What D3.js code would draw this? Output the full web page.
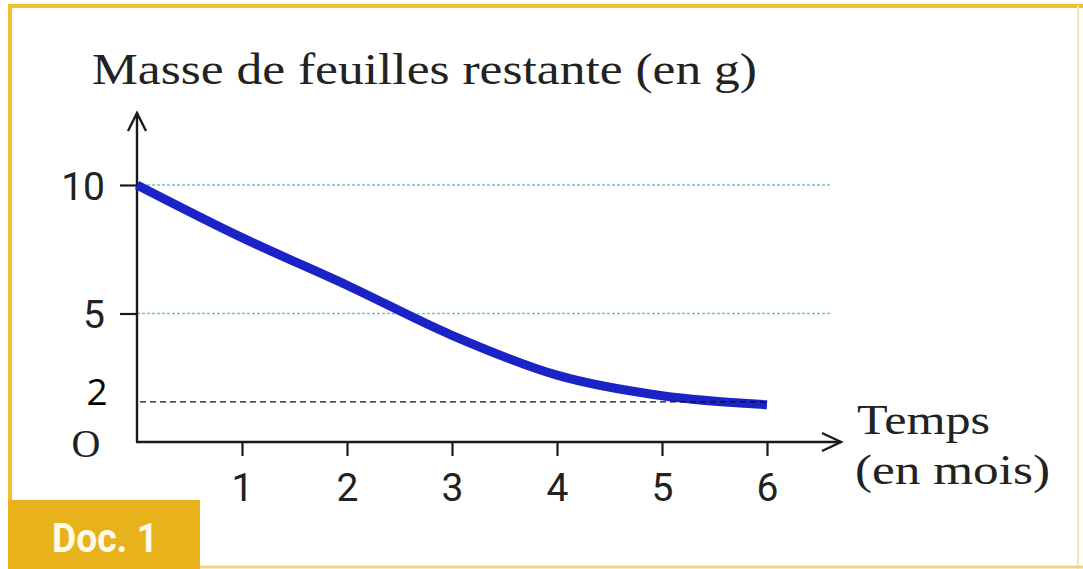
<!DOCTYPE html>
<html><head><meta charset="utf-8">
<script src="https://cdn.jsdelivr.net/npm/d3@7/dist/d3.min.js"></script>
<style>html,body{margin:0;padding:0;background:#fff;}svg{display:block;}</style>
</head><body>
<script>
// Data
const months = [0, 1, 2, 3, 4, 5, 6];
const mass = [10, 7.95, 6.1, 4.15, 2.6, 1.8, 1.45];
const xTicks = [1, 2, 3, 4, 5, 6];
const yTicks = [10, 5];
const gridValues = [10, 5];
const refValue = 1.56;      // dashed reference line position
const refLabel = "2";
const title = "Masse de feuilles restante (en g)";
const xTitle = ["Temps", "(en mois)"];
const docLabel = "Doc. 1";

const W = 1083, H = 569;
const svg = d3.select("body").append("svg").attr("width", W).attr("height", H);

// frame
svg.append("rect").attr("x", 0).attr("y", 0).attr("width", W).attr("height", H).attr("fill", "#fff");
svg.append("line").attr("x1", 8).attr("x2", 1083).attr("y1", 6).attr("y2", 6).attr("stroke", "#efc02a").attr("stroke-width", 4);
svg.append("line").attr("x1", 10).attr("x2", 10).attr("y1", 4).attr("y2", 569).attr("stroke", "#efc02a").attr("stroke-width", 4);
svg.append("line").attr("x1", 1078).attr("x2", 1078).attr("y1", 6).attr("y2", 569).attr("stroke", "#f7e6b0").attr("stroke-width", 2);
svg.append("line").attr("x1", 10).attr("x2", 1083).attr("y1", 567).attr("y2", 567).attr("stroke", "#f3d37a").attr("stroke-width", 3);

// Doc label
svg.append("rect").attr("x", 8).attr("y", 500).attr("width", 192).attr("height", 69).attr("fill", "#e8b21c");
svg.append("text").attr("x", 52).attr("y", 552).text(docLabel)
  .attr("font-family", "Roboto, 'Liberation Sans', sans-serif").attr("font-weight", 700)
  .attr("font-size", 40).attr("fill", "#fffbe8")
  .attr("textLength", 106).attr("lengthAdjust", "spacingAndGlyphs");

const x = d3.scaleLinear().domain([0, 6]).range([137, 767]);
const y = d3.scaleLinear().domain([0, 10]).range([442, 185]);
const x0 = x(0), y0 = y(0);

// grid lines
svg.selectAll(".grid").data(gridValues).enter().append("line")
  .attr("x1", x0).attr("x2", 832)
  .attr("y1", d => y(d)).attr("y2", d => y(d))
  .attr("stroke", "#6fc4d6").attr("stroke-width", 1.4).attr("stroke-dasharray", "3,2");

// x axis ticks
const xAxis = d3.axisBottom(x).tickValues(xTicks).tickSize(14).tickPadding(17).tickFormat(d3.format("d"));
const gx = svg.append("g").attr("transform", `translate(0,${y0})`).call(xAxis);
gx.select(".domain").remove();
gx.selectAll(".tick line").attr("stroke", "#1a1a1a").attr("stroke-width", 2.2);
gx.selectAll(".tick text").attr("font-family", "Roboto, 'DejaVu Sans', sans-serif")
  .attr("font-size", 39).attr("fill", "#222").attr("dy", "0.71em");

// y axis ticks
const yAxis = d3.axisLeft(y).tickValues(yTicks).tickSize(17).tickPadding(15).tickFormat(d3.format("d"));
const gy = svg.append("g").attr("transform", `translate(${x0},0)`).call(yAxis);
gy.select(".domain").remove();
gy.selectAll(".tick line").attr("stroke", "#1a1a1a").attr("stroke-width", 2.2);
gy.selectAll(".tick text").attr("font-family", "Roboto, 'DejaVu Sans', sans-serif")
  .attr("font-size", 39).attr("fill", "#222").attr("dy", "0.36em");

// axes with arrows
const ax = svg.append("g").attr("stroke", "#1a1a1a").attr("stroke-width", 2.4).attr("fill", "none");
ax.append("path").attr("d", `M${x0},${y0} L${x0},113`);
ax.append("path").attr("d", `M${x0-9},131 L${x0},113 L${x0+9},131`);
ax.append("path").attr("d", `M${x0-1},${y0} L841,${y0}`);
ax.append("path").attr("d", `M822,${y0-9} L841,${y0} L822,${y0+9}`);

// curve
const line = d3.line().x((d, i) => x(months[i])).y(d => y(d)).curve(d3.curveMonotoneX);
svg.append("path").datum(mass).attr("d", line)
  .attr("fill", "none").attr("stroke", "#1b22c6").attr("stroke-width", 9)
  .attr("stroke-linecap", "butt").attr("stroke-linejoin", "round");

// dashed reference line
svg.append("line").attr("x1", x0 + 3).attr("x2", x(6))
  .attr("y1", y(refValue)).attr("y2", y(refValue))
  .attr("stroke", "#111").attr("stroke-width", 1.3).attr("stroke-dasharray", "6,4");
svg.append("text").attr("x", 97).attr("y", y(refValue) + 3).text(refLabel)
  .attr("text-anchor", "middle").attr("font-family", "'Open Sans', 'Liberation Sans', sans-serif")
  .attr("font-size", 37).attr("fill", "#000");

// origin
const serif = "'Liberation Serif', 'DejaVu Serif', serif";
svg.append("text").attr("x", 86).attr("y", 457).text("O").attr("text-anchor", "middle")
  .attr("font-family", serif).attr("font-size", 40).attr("fill", "#222");

// titles
svg.append("text").attr("x", 92).attr("y", 84).text(title)
  .attr("font-family", serif).attr("font-size", 44).attr("fill", "#222")
  .attr("textLength", 665).attr("lengthAdjust", "spacingAndGlyphs");
svg.append("text").attr("x", 857).attr("y", 434).text(xTitle[0])
  .attr("font-family", serif).attr("font-size", 42).attr("fill", "#222")
  .attr("textLength", 133).attr("lengthAdjust", "spacingAndGlyphs");
svg.append("text").attr("x", 855).attr("y", 484).text(xTitle[1])
  .attr("font-family", serif).attr("font-size", 42).attr("fill", "#222")
  .attr("textLength", 195).attr("lengthAdjust", "spacingAndGlyphs");
</script>
</body></html>
